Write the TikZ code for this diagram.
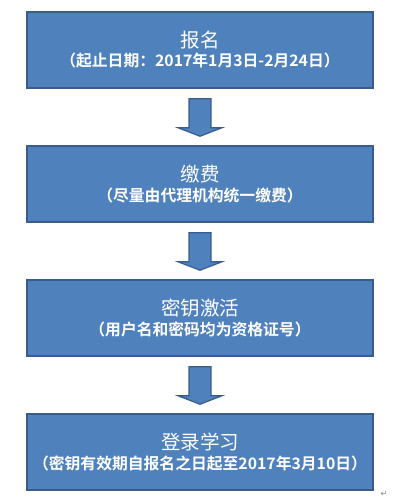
\documentclass[tikz,border=0pt]{standalone}
\usepackage{fontspec}
\newfontfamily\cjk{Noto Sans CJK SC}
\newfontfamily\cjkbold{Noto Sans CJK SC Bold}
\newfontfamily\djv{DejaVu Sans}
\definecolor{boxfill}{HTML}{4F81BD}
\definecolor{boxline}{HTML}{385D8A}
\tikzset{
  stepbox/.style={draw=boxline, fill=boxfill, line width=1.5pt, minimum width=346pt, minimum height=76pt, inner sep=0pt},
  titletext/.style={text=white, font=\cjk\fontsize{19.5}{19.5}\selectfont, inner sep=0pt},
  subtext/.style={text=white, font=\cjkbold\fontsize{15.8}{15.8}\selectfont, inner sep=0pt},
  downarrow/.style={draw=boxline, fill=boxfill, line width=1.2pt, line join=miter}
}
\begin{document}
\begin{tikzpicture}[x=1pt,y=-1pt]
\useasboundingbox (0,0) rectangle (415,499);
\foreach \i/\yc/\t/\s in {
  a/50/报名/（起止日期：2017年1月3日-2月24日）,
  b/184/缴费/（尽量由代理机构统一缴费）,
  c/318/密钥激活/（用户名和密码均为资格证号）,
  d/452/登录学习/（密钥有效期自报名之日起至2017年3月10日）}{
  \node[stepbox] (\i) at (200,\yc) {};
  \node[titletext] (\i t) at (200,\yc-10) {\t};
  \node[subtext] (\i s) at (200,\yc+11) {\s};
}
\foreach \p/\q in {a/b,b/c,c/d}{
  \coordinate (\p top) at ([yshift=-10pt]\p.south);
  \coordinate (\p tip) at ([yshift=9pt]\q.north);
  \draw[downarrow] ([xshift=-11pt]\p top) -- ([xshift=11pt]\p top)
    -- ([xshift=11pt,yshift=-29pt]\p top) -- ([xshift=22pt,yshift=-29pt]\p top)
    -- (\p tip) -- ([xshift=-22pt,yshift=-29pt]\p top)
    -- ([xshift=-11pt,yshift=-29pt]\p top) -- cycle;
}
\node[text=gray, font=\djv\fontsize{8}{8}\selectfont, inner sep=0pt] (ret) at (384,494) {↵};
\end{tikzpicture}
\end{document}
